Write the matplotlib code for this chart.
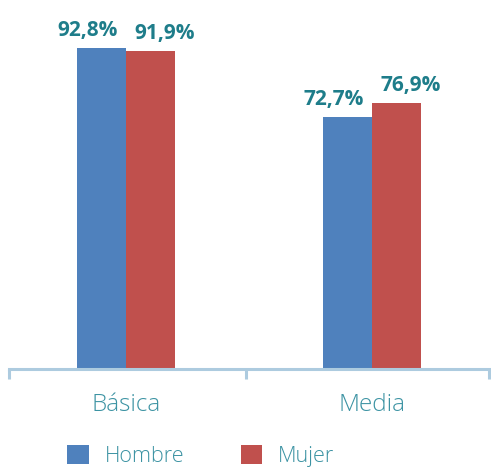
import matplotlib
matplotlib.use("Agg")
import matplotlib.pyplot as plt
import numpy as np
from matplotlib.patches import Patch

categories = ["Básica", "Media"]
series_names = ["Hombre", "Mujer"]
hombre = [92.8, 72.7]
mujer = [91.9, 76.9]
labels_h = ["92,8%", "72,7%"]
labels_m = ["91,9%", "76,9%"]

blue = "#4F81BD"
red = "#C0504D"
label_col = "#1E7D8A"
cat_col = "#3C93A3"
axis_col = "#ADCBDF"

fig = plt.figure(figsize=(4.91, 4.70), dpi=100)
ax = fig.add_axes([0.018, 0.215, 0.982, 0.785])

x = np.arange(len(categories))
w = 0.2
b1 = ax.bar(x - w / 2, hombre, w, color=blue)
b2 = ax.bar(x + w / 2, mujer, w, color=red)

for bars, labs, dx in ((b1, labels_h, -10), (b2, labels_m, 10)):
    for r, t in zip(bars, labs):
        ax.annotate(t, (r.get_x() + r.get_width() / 2, r.get_height()),
                    xytext=(dx, 5), textcoords="offset points",
                    ha="center", va="bottom", fontsize=15, fontweight="bold",
                    color=label_col, family="Open Sans")

ax.set_xlim(-0.476, 1.484)
ax.set_ylim(0, 106.6)
for s in ["top", "right", "left"]:
    ax.spines[s].set_visible(False)
ax.spines["bottom"].set_color(axis_col)
ax.spines["bottom"].set_linewidth(2.2)
ax.set_yticks([])
ax.set_xticks(x)
ax.set_xticklabels(categories, fontsize=17.5, color=cat_col, family="Open Sans", fontweight="light")
ax.tick_params(axis="x", which="major", length=0, pad=17)
ax.set_xticks([-0.476, 0.488, 1.476], minor=True)
ax.tick_params(axis="x", which="minor", length=7, width=2.2, color=axis_col)

handles = [Patch(facecolor=blue), Patch(facecolor=red)]
leg = fig.legend(handles, series_names, loc="upper left", bbox_to_anchor=(0.137, 0.054),
                 ncol=2, frameon=False, handlelength=1.0, handleheight=1.0,
                 handletextpad=0.75, columnspacing=2.6, borderpad=0, borderaxespad=0,
                 prop={"family": "Open Sans", "weight": "light", "size": 15.5})
for t in leg.get_texts():
    t.set_color(cat_col)

fig.savefig("out.png", dpi=100)
